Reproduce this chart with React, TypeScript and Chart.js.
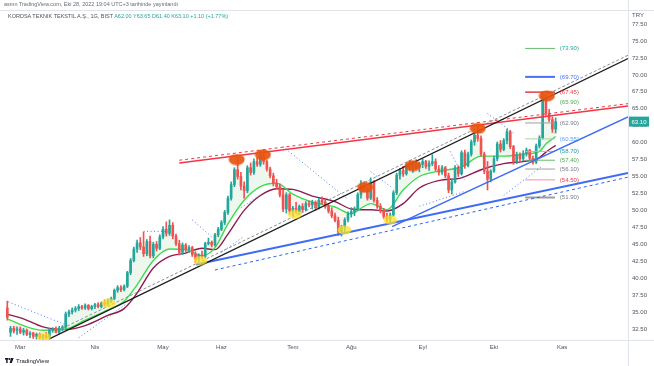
import React, { useEffect, useRef } from "react";
import { Chart, registerables } from "chart.js";

Chart.register(...registerables);

// ---------- DATA ----------
const OPEN = [
  35.6, 32.0, 32.6, 32.3, 32.5, 32.0, 32.3, 31.7, 31.9, 31.4,
  31.7, 31.2, 31.5, 31.3, 32.4, 32.5, 32.0, 32.6, 32.8, 34.7,
  35.0, 35.3, 35.5, 35.8, 35.6, 36.0, 35.5, 35.8, 36.1, 35.8,
  36.3, 36.2, 36.6, 37.0, 38.2, 38.6, 38.3, 38.8, 40.8, 42.6,
  44.3, 45.2, 44.6, 43.6, 45.4, 43.3, 45.0, 44.4, 46.1, 47.2,
  46.6, 47.8, 46.2, 45.1, 43.8, 44.9, 44.2, 44.5, 43.5, 42.8,
  43.4, 43.2, 45.1, 45.3, 44.9, 46.4, 47.2, 48.2, 49.7, 51.8,
  53.8, 56.0, 55.0, 53.6, 52.9, 56.3, 55.6, 57.2, 56.8, 58.1,
  57.2, 56.1, 55.1, 54.0, 53.5, 52.3, 50.2, 52.3, 49.9, 50.3,
  49.8, 50.6, 50.1, 51.0, 50.8, 51.2, 50.4, 51.5, 51.2, 50.6,
  49.9, 49.2, 48.5, 46.8, 47.5, 48.6, 49.5, 49.8, 50.2, 52.3,
  53.6, 53.0, 51.8, 54.2, 51.5, 50.6, 49.9, 49.1, 48.7, 49.3,
  52.6, 55.2, 55.9, 55.4, 56.6, 56.2, 56.9, 56.4, 56.8, 57.2,
  56.5, 56.9, 57.2, 56.1, 55.6, 56.3, 55.1, 53.0, 54.2, 56.3,
  55.4, 58.5, 56.6, 58.3, 60.1, 61.1, 60.6, 58.3, 55.8, 54.6,
  55.8, 57.6, 59.8, 59.0, 60.3, 61.6, 59.4, 57.2, 58.2, 57.6,
  58.4, 58.9, 57.7, 57.1, 59.5, 60.7, 66.2, 64.3, 63.4, 62.0,
];
const HIGH = [
  36.6, 32.9, 32.9, 32.8, 32.8, 32.6, 32.5, 32.1, 32.0, 31.9,
  31.9, 31.7, 32.0, 32.6, 32.7, 32.8, 32.9, 33.0, 35.0, 35.3,
  35.6, 35.8, 36.1, 36.0, 36.2, 36.1, 36.0, 36.3, 36.4, 36.5,
  36.8, 36.9, 37.2, 38.4, 38.9, 38.9, 39.0, 41.0, 42.9, 44.6,
  45.6, 46.0, 46.8, 45.7, 46.2, 45.3, 45.4, 46.4, 47.6, 48.3,
  48.6, 48.2, 46.5, 45.6, 45.2, 45.1, 44.8, 44.7, 43.9, 43.6,
  44.0, 45.3, 45.9, 45.5, 46.6, 47.5, 48.5, 50.0, 52.1, 54.2,
  56.3, 57.8, 55.6, 54.2, 56.6, 57.0, 57.6, 57.8, 58.8, 58.4,
  57.4, 56.4, 55.5, 54.6, 53.9, 53.0, 52.6, 52.5, 50.6, 51.2,
  50.8, 51.0, 51.3, 51.4, 51.5, 51.4, 51.8, 52.0, 51.6, 51.0,
  50.4, 49.6, 49.0, 47.8, 48.9, 49.8, 50.4, 50.5, 52.6, 54.4,
  54.2, 53.4, 54.8, 54.4, 51.9, 51.0, 50.3, 49.6, 49.6, 52.9,
  55.5, 56.2, 56.5, 56.9, 57.4, 57.2, 57.5, 57.1, 57.6, 57.4,
  57.3, 58.2, 57.6, 56.6, 56.6, 56.5, 55.5, 54.6, 56.6, 56.6,
  58.8, 58.9, 58.6, 60.4, 61.5, 62.4, 61.0, 58.6, 57.2, 56.0,
  58.0, 60.1, 60.3, 60.6, 62.0, 61.8, 59.6, 58.6, 58.5, 58.8,
  59.2, 59.0, 58.0, 59.8, 61.0, 67.45, 66.8, 64.9, 63.8, 63.65,
];
const LOW = [
  33.8, 31.4, 31.9, 31.7, 31.8, 31.6, 31.5, 31.2, 31.1, 31.0,
  31.0, 30.9, 31.0, 31.1, 32.0, 31.9, 31.8, 32.2, 32.6, 34.3,
  34.7, 35.0, 35.2, 35.4, 35.4, 35.3, 35.3, 35.5, 35.6, 35.6,
  35.9, 36.0, 36.4, 36.8, 37.9, 38.0, 38.1, 38.6, 40.5, 42.4,
  43.8, 44.2, 43.2, 43.3, 43.0, 43.0, 44.0, 44.2, 45.8, 46.2,
  46.3, 45.8, 44.8, 43.4, 43.5, 43.9, 43.8, 43.2, 42.3, 42.5,
  42.9, 43.0, 44.9, 44.6, 44.7, 46.1, 47.0, 47.9, 49.4, 51.5,
  53.5, 54.6, 53.0, 51.8, 52.6, 55.2, 55.3, 56.5, 56.5, 56.8,
  55.8, 54.8, 53.6, 53.2, 52.0, 49.8, 49.6, 49.4, 49.2, 49.5,
  49.4, 49.8, 49.9, 50.5, 50.2, 50.0, 50.2, 50.9, 50.3, 49.6,
  48.9, 48.3, 46.3, 46.2, 46.6, 48.3, 49.0, 49.2, 50.0, 51.8,
  52.8, 51.5, 51.6, 51.2, 50.3, 49.6, 48.8, 48.3, 48.2, 49.1,
  52.3, 54.6, 55.0, 55.2, 55.9, 55.6, 56.1, 55.7, 56.3, 56.2,
  55.9, 56.6, 55.8, 55.2, 55.3, 54.8, 52.6, 52.4, 54.0, 55.0,
  55.2, 56.2, 56.4, 58.0, 59.6, 60.2, 58.0, 55.4, 53.0, 54.2,
  55.6, 57.3, 58.6, 58.8, 59.8, 59.1, 56.8, 56.9, 57.2, 57.3,
  58.0, 57.4, 56.8, 56.9, 59.2, 60.5, 64.0, 63.1, 61.5, 61.4,
];
const CLOSE = [
  34.2, 32.6, 32.2, 32.5, 32.0, 32.3, 31.7, 31.9, 31.4, 31.7,
  31.2, 31.5, 31.2, 32.4, 32.5, 32.0, 32.6, 32.8, 34.7, 35.0,
  35.3, 35.5, 35.8, 35.6, 36.0, 35.5, 35.8, 36.1, 35.8, 36.3,
  36.2, 36.6, 37.0, 38.2, 38.6, 38.3, 38.8, 40.8, 42.6, 44.3,
  45.2, 44.6, 43.6, 45.4, 43.3, 45.0, 44.4, 46.1, 47.2, 46.6,
  47.8, 46.2, 45.1, 43.8, 44.9, 44.2, 44.5, 43.5, 42.8, 43.4,
  43.2, 45.1, 45.3, 44.9, 46.4, 47.2, 48.2, 49.7, 51.8, 53.8,
  56.0, 55.0, 53.6, 52.9, 56.3, 55.6, 57.2, 56.8, 58.1, 57.2,
  56.1, 55.1, 54.0, 53.5, 52.3, 50.2, 52.3, 49.9, 50.3, 49.8,
  50.6, 50.1, 51.0, 50.8, 51.2, 50.4, 51.5, 51.2, 50.6, 49.9,
  49.2, 48.5, 46.8, 47.5, 48.6, 49.5, 49.8, 50.2, 52.3, 53.6,
  53.0, 51.8, 54.2, 51.5, 50.6, 49.9, 49.1, 48.7, 49.3, 52.6,
  55.2, 55.9, 55.4, 56.6, 56.2, 56.9, 56.4, 56.8, 57.2, 56.5,
  56.9, 57.2, 56.1, 55.6, 56.3, 55.1, 53.0, 54.2, 56.3, 55.4,
  58.5, 56.6, 58.3, 60.1, 61.1, 60.6, 58.3, 55.8, 54.6, 55.8,
  57.6, 59.8, 59.0, 60.3, 61.6, 59.4, 57.2, 58.2, 57.6, 58.4,
  58.9, 57.7, 57.1, 59.5, 60.7, 66.2, 64.3, 63.4, 62.0, 63.1,
];

const MONTH_LABELS = ["Mar", "Nis", "May", "Haz", "Tem", "Ağu", "Eyl", "Eki", "Kas"];
const MONTH_INDEX = [4, 27, 48, 66, 88, 106, 128, 150, 171];
const Y_TICKS = [32.5, 35, 37.5, 40, 42.5, 45, 47.5, 50, 52.5, 55, 57.5, 60, 62.5, 65, 67.5, 70, 72.5, 75, 77.5];

const MA_X = [0, 5, 11, 18, 24, 31, 36, 40, 45, 50, 55, 60, 64, 68, 73, 78, 83, 88, 94, 101, 106, 109, 112, 117, 122, 127, 133, 140, 146, 153, 159, 164, 166, 169];
const MA_FAST = [34.0, 33.0, 32.3, 32.5, 33.8, 35.3, 36.6, 39.0, 42.6, 44.3, 44.2, 43.3, 44.5, 48.0, 51.5, 53.5, 54.0, 52.4, 51.2, 50.5, 49.5, 50.3, 51.0, 50.1, 53.0, 55.0, 55.8, 56.4, 58.0, 58.0, 58.3, 58.7, 59.8, 60.9];
const MA_SLOW = [34.7, 34.0, 32.8, 32.4, 33.0, 34.5, 35.5, 37.8, 41.5, 43.2, 43.7, 44.4, 44.2, 46.5, 50.0, 52.2, 53.2, 53.1, 52.1, 51.3, 50.2, 50.1, 50.1, 49.9, 51.0, 53.3, 54.4, 54.8, 56.0, 56.9, 57.2, 57.8, 58.6, 59.6];

// trend lines: [x1, y1, x2, y2] in bar index / price
const BLACK_LINE = [12.8, 31.0, 191.3, 72.4];
const BLACK_DASH = [17, 32.6, 191.3, 72.9];
const RED_LINE = [53, 57.0, 191.3, 65.4];
const RED_DASH = [53, 57.4, 191.3, 65.75];
const BLUE_LOW = [58.2, 42.0, 191.3, 55.5];
const BLUE_LOW_DASH = [64, 41.2, 191.3, 54.9];
const BLUE_HIGH = [118.6, 47.6, 191.3, 63.8];
const SAR_SEGMENTS = [
  [0.3, 36.5, 17.5, 33.2],
  [22, 31.2, 37, 36.3],
  [42, 46.9, 49, 46.9],
  [57, 48.6, 63, 46.1],
  [66, 43.8, 73, 46.2],
  [72, 50.4, 79, 52.6],
  [85, 59.4, 105, 51.6],
  [112, 55.7, 119, 53.2],
  [127, 50.6, 141, 52.8],
  [136.5, 58.7, 141, 54.5],
  [148, 64.3, 156, 61.4],
  [153, 52.2, 165, 56.6],
];

const LEVEL_VALUES = [73.9, 69.7, 67.45, 65.9, 62.9, 60.55, 58.7, 57.4, 56.1, 54.5, 51.9];
const LEVEL_LABELS = ["(73.90)", "(69.70)", "(67.45)", "(65.90)", "(62.90)", "(60.55)", "(58.70)", "(57.40)", "(56.10)", "(54.50)", "(51.90)"];
const LEVEL_FROM = 159.6;
const LEVEL_TO = 168.8;
const LEVEL_LABEL_AT = 170.3;

const ORANGE_X = [70.7, 78.8, 110.3, 125, 145, 166.3];
const ORANGE_Y = [57.5, 58.2, 53.4, 56.6, 62.1, 66.9];
const YELLOW_X = [11.3, 31.2, 59.5, 88.6, 103.9, 118];
const YELLOW_Y = [31.3, 36.3, 42.6, 49.4, 47.1, 48.6];

const LAST_PRICE = 63.1;
const X_MIN = -0.4;
const X_MAX = 191.3;
const Y_MIN = 30.87;
const Y_MAX = 79.57;

// ---------- STYLES ----------
const UP = "#26a69a";
const DOWN = "#ef5350";
const LEVEL_LINE_COLORS = ["#66bb6a", "#4c6ef5", "#f23645", "rgba(0,0,0,0)", "#9e9e9e", "#a5d6a7", "#80cbc4", "#66bb6a", "#9e9e9e", "#f48fb1", "#9e9e9e"];
const LEVEL_LINE_WIDTHS = [1, 2, 1.5, 1, 1, 1, 1, 1, 1, 1, 2];
const LEVEL_TEXT_COLORS = ["#26a69a", "#4c6ef5", "#f23645", "#4caf50", "#787b86", "#5b9cf6", "#2196a3", "#4caf50", "#787b86", "#f23645", "#787b86"];
const FONT = '"Liberation Sans", Arial, sans-serif';

function ellipseImage(w: number, h: number, color: string) {
  const c = document.createElement("canvas");
  c.width = w;
  c.height = h;
  const g = c.getContext("2d")!;
  g.fillStyle = color;
  g.beginPath();
  g.ellipse(w / 2, h / 2, w / 2 - 0.5, h / 2 - 0.5, 0, 0, Math.PI * 2);
  g.fill();
  return c;
}

function seg(s: number[]) {
  return [
    { x: s[0], y: s[1] },
    { x: s[2], y: s[3] },
  ];
}

export default function App() {
  const ref = useRef<HTMLCanvasElement | null>(null);

  useEffect(() => {
    document.body.style.margin = "0";
    const canvas = ref.current;
    if (!canvas) return;

    const idx = OPEN.map((_, i) => i);
    const candleColors = idx.map((i) => (CLOSE[i] >= OPEN[i] ? UP : DOWN));
    const orangeImg = ellipseImage(17, 12, "rgba(232,84,14,0.92)");
    const yellowImg = ellipseImage(15, 10, "rgba(255,226,40,0.75)");

    const lineDs = (pts: any[], color: string, width: number, dash: number[] | undefined, order: number) => ({
      type: "line",
      data: pts,
      borderColor: color,
      borderWidth: width,
      borderDash: dash || [],
      pointRadius: 0,
      fill: false,
      tension: 0,
      order,
    });

    const datasets: any[] = [
      // 0: close trace used for the light cloud against the fast MA
      {
        type: "line",
        data: idx.map((i) => ({ x: i, y: CLOSE[i] })),
        borderColor: "rgba(0,0,0,0)",
        borderWidth: 1,
        pointRadius: 0,
        fill: { target: 1, above: "rgba(76,175,80,0.10)", below: "rgba(239,83,80,0.08)" },
        order: 9,
      },
      // 1: fast MA
      {
        type: "line",
        data: MA_X.map((x, i) => ({ x, y: MA_FAST[i] })),
        borderColor: "#3ddc4f",
        borderWidth: 1.4,
        pointRadius: 0,
        cubicInterpolationMode: "monotone",
        fill: false,
        order: 6,
      },
      // 2: slow MA
      {
        type: "line",
        data: MA_X.map((x, i) => ({ x, y: MA_SLOW[i] })),
        borderColor: "#8e1b4f",
        borderWidth: 1.4,
        pointRadius: 0,
        cubicInterpolationMode: "monotone",
        fill: false,
        order: 6,
      },
      // wicks
      {
        type: "bar",
        data: idx.map((i) => ({ x: i, y: [LOW[i], HIGH[i]] })),
        backgroundColor: candleColors,
        barThickness: 1,
        grouped: false,
        order: 5,
      },
      // bodies
      {
        type: "bar",
        data: idx.map((i) => ({ x: i, y: [OPEN[i], CLOSE[i]] })),
        backgroundColor: candleColors,
        barThickness: 2,
        minBarLength: 1,
        grouped: false,
        order: 4,
      },
      lineDs(seg(BLACK_DASH), "#8a8d96", 1, [3, 2], 3),
      lineDs(seg(BLACK_LINE), "#1e1e1e", 1.2, undefined, 2),
      lineDs(seg(RED_DASH), "#f23645", 1, [3, 3], 3),
      lineDs(seg(RED_LINE), "#f23645", 1.4, undefined, 2),
      lineDs(seg(BLUE_LOW_DASH), "#2962ff", 1, [3, 3], 3),
      lineDs(seg(BLUE_LOW), "#3f6cf4", 2, undefined, 2),
      lineDs(seg(BLUE_HIGH), "#3f6cf4", 1.5, undefined, 2),
      ...SAR_SEGMENTS.map((s) => lineDs(seg(s), "rgba(41,98,255,0.85)", 1, [1, 2.5], 3)),
      ...LEVEL_VALUES.map((v, i) =>
        lineDs(
          [
            { x: LEVEL_FROM, y: v },
            { x: LEVEL_TO, y: v },
          ],
          LEVEL_LINE_COLORS[i],
          LEVEL_LINE_WIDTHS[i],
          undefined,
          3
        )
      ),
      {
        type: "scatter",
        data: YELLOW_X.map((x, i) => ({ x, y: YELLOW_Y[i] })),
        pointStyle: yellowImg,
        pointRadius: 5,
        order: 1,
      },
      {
        type: "scatter",
        data: ORANGE_X.map((x, i) => ({ x, y: ORANGE_Y[i] })),
        pointStyle: orangeImg,
        pointRadius: 5,
        order: 0,
      },
    ];

    const overlay = {
      id: "overlay",
      afterDatasetsDraw(chart: any) {
        const { ctx, chartArea: a, scales } = chart;
        const xs = scales.x;
        const ys = scales.y;
        ctx.save();
        ctx.strokeStyle = "#e0e3eb";
        ctx.lineWidth = 1;
        ctx.beginPath();
        ctx.moveTo(0, Math.round(a.top) + 0.5);
        ctx.lineTo(654, Math.round(a.top) + 0.5);
        ctx.moveTo(0, Math.round(a.bottom) + 0.5);
        ctx.lineTo(654, Math.round(a.bottom) + 0.5);
        ctx.moveTo(Math.round(a.right) + 0.5, 0);
        ctx.lineTo(Math.round(a.right) + 0.5, 366);
        ctx.stroke();

        ctx.font = "6px " + FONT;
        ctx.textBaseline = "middle";
        ctx.textAlign = "left";
        LEVEL_VALUES.forEach((v: number, i: number) => {
          ctx.fillStyle = LEVEL_TEXT_COLORS[i];
          ctx.fillText(LEVEL_LABELS[i], xs.getPixelForValue(LEVEL_LABEL_AT), ys.getPixelForValue(v));
        });

        const py = ys.getPixelForValue(LAST_PRICE);
        ctx.fillStyle = UP;
        ctx.fillRect(a.right + 1, py - 5, 20, 10);
        ctx.fillStyle = "#ffffff";
        ctx.fillText(LAST_PRICE.toFixed(2), a.right + 3.5, py + 0.5);

        ctx.fillStyle = "#50535e";
        ctx.fillText("TRY", a.right + 4, 15);
        ctx.restore();
      },
    };

    const chart = new Chart(canvas, {
      type: "bar",
      data: { datasets },
      options: {
        animation: false,
        responsive: false,
        devicePixelRatio: 1,
        layout: { padding: { left: 5, top: 10, right: 0, bottom: 0 } },
        plugins: { legend: { display: false }, tooltip: { enabled: false } },
        scales: {
          x: {
            type: "linear",
            min: X_MIN,
            max: X_MAX,
            offset: false,
            grid: { display: false, drawTicks: false },
            border: { display: false },
            afterBuildTicks: (s: any) => {
              s.ticks = MONTH_INDEX.map((v) => ({ value: v }));
            },
            afterFit: (s: any) => {
              s.height = 26;
            },
            ticks: {
              autoSkip: false,
              maxRotation: 0,
              padding: 4,
              color: "#50535e",
              font: { family: FONT, size: 6 },
              callback: (v: any) => {
                const k = MONTH_INDEX.indexOf(Number(v));
                return k >= 0 ? MONTH_LABELS[k] : "";
              },
            },
          },
          y: {
            type: "linear",
            position: "right",
            min: Y_MIN,
            max: Y_MAX,
            grid: { display: false, drawTicks: false },
            border: { display: false },
            afterBuildTicks: (s: any) => {
              s.ticks = Y_TICKS.map((v) => ({ value: v }));
            },
            afterFit: (s: any) => {
              s.width = 26;
            },
            ticks: {
              padding: 4,
              color: "#50535e",
              font: { family: FONT, size: 6 },
              callback: (v: any) => Number(v).toFixed(2),
            },
          },
        },
      },
      plugins: [overlay],
    } as any);

    return () => chart.destroy();
  }, []);

  return (
    <div style={{ position: "fixed", left: 0, top: 0, width: 654, height: 366, background: "#ffffff", overflow: "hidden", fontFamily: FONT }}>
      <canvas ref={ref} width={654} height={366} style={{ position: "absolute", left: 0, top: 0, width: 654, height: 366 }} />
      <div style={{ position: "absolute", left: 4, top: 1, fontSize: 5.5, color: "#6a6d78", whiteSpace: "nowrap", lineHeight: "6px" }}>
        asmn TradingView.com, Eki 28, 2022 19:04 UTC+3 tarihinde yayınlandı
      </div>
      <div style={{ position: "absolute", left: 8, top: 13, fontSize: 5.5, color: "#50535e", whiteSpace: "nowrap", lineHeight: "6px" }}>
        KORDSA TEKNIK TEKSTIL A.Ş., 1G, BIST{" "}
        <span style={{ color: "#26a69a" }}>A62.00 Y63.65 D61.40 K63.10 +1.10 (+1.77%)</span>
      </div>
      <div style={{ position: "absolute", left: 5, top: 358, display: "flex", alignItems: "center", whiteSpace: "nowrap" }}>
        <svg width="9" height="6" viewBox="0 0 9 6" style={{ display: "block" }}>
          <rect x="0" y="0" width="3.5" height="1.6" fill="#131722" />
          <rect x="1.2" y="0" width="1.4" height="5" fill="#131722" />
          <circle cx="4.6" cy="1" r="0.9" fill="#131722" />
          <polygon points="6,0 8.6,0 6.8,5 4.6,5" fill="#131722" />
        </svg>
        <span style={{ fontSize: 6, color: "#131722", marginLeft: 2, lineHeight: "6px" }}>TradingView</span>
      </div>
    </div>
  );
}
